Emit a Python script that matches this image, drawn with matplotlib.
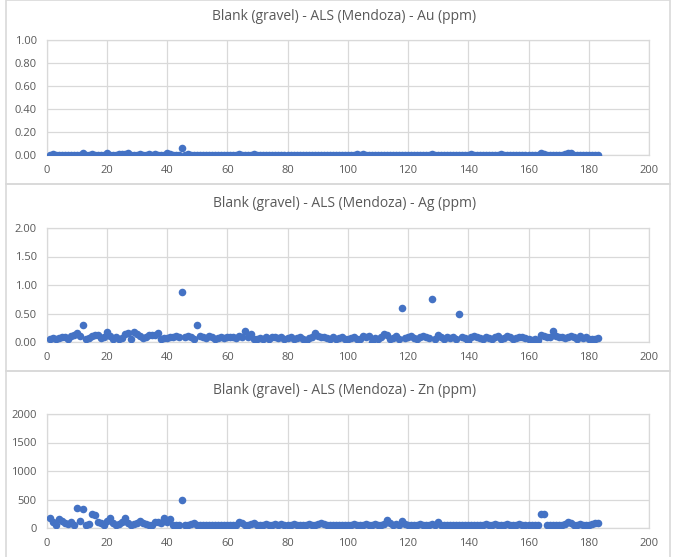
import matplotlib
matplotlib.use("Agg")
import matplotlib.pyplot as plt
from matplotlib.patches import Rectangle

sample_no = list(range(1, 184))

au_ppm = [
    0, 0.01, 0, 0, 0, 0, 0, 0, 0, 0,
    0, 0.02, 0, 0, 0.01, 0, 0, 0, 0, 0.02,
    0, 0, 0, 0.01, 0.01, 0.01, 0.02, 0, 0, 0,
    0.01, 0, 0, 0.01, 0, 0.01, 0, 0, 0, 0.02,
    0.01, 0, 0, 0, 0.06, 0, 0.01, 0, 0, 0,
    0, 0, 0, 0, 0, 0, 0, 0, 0, 0,
    0, 0, 0, 0.01, 0, 0, 0, 0, 0.01, 0,
    0, 0, 0, 0, 0, 0, 0, 0, 0, 0,
    0, 0, 0, 0, 0, 0, 0, 0, 0, 0,
    0, 0, 0, 0, 0, 0, 0, 0, 0, 0,
    0, 0, 0.01, 0, 0.01, 0, 0, 0, 0, 0,
    0, 0, 0, 0, 0, 0, 0, 0, 0, 0,
    0, 0, 0, 0, 0, 0, 0, 0.01, 0, 0,
    0, 0, 0, 0, 0, 0, 0, 0, 0, 0,
    0.01, 0, 0, 0, 0, 0, 0, 0, 0, 0,
    0.01, 0, 0, 0, 0, 0, 0, 0, 0, 0,
    0, 0, 0, 0.02, 0.01, 0, 0, 0, 0, 0,
    0, 0.01, 0.02, 0.02, 0, 0, 0, 0, 0, 0,
    0, 0, 0,
]

ag_ppm = [
    0.05, 0.07, 0.06, 0.07, 0.09, 0.08, 0.06, 0.10, 0.12, 0.15,
    0.10, 0.29, 0.05, 0.07, 0.10, 0.13, 0.12, 0.07, 0.08, 0.17,
    0.10, 0.06, 0.08, 0.05, 0.07, 0.14, 0.15, 0.05, 0.17, 0.14,
    0.10, 0.07, 0.09, 0.12, 0.13, 0.12, 0.16, 0.06, 0.07, 0.07,
    0.09, 0.08, 0.10, 0.09, 0.87, 0.09, 0.10, 0.08, 0.05, 0.30,
    0.10, 0.09, 0.07, 0.10, 0.08, 0.06, 0.07, 0.09, 0.07, 0.08,
    0.09, 0.08, 0.07, 0.10, 0.09, 0.20, 0.08, 0.14, 0.06, 0.05,
    0.07, 0.05, 0.08, 0.06, 0.09, 0.08, 0.07, 0.08, 0.06, 0.07,
    0.08, 0.06, 0.07, 0.09, 0.06, 0.00, 0.07, 0.09, 0.16, 0.10,
    0.08, 0.09, 0.07, 0.06, 0.09, 0.05, 0.07, 0.08, 0.06, 0.05,
    0.07, 0.08, 0.06, 0.05, 0.10, 0.08, 0.10, 0.00, 0.07, 0.06,
    0.09, 0.14, 0.12, 0.05, 0.07, 0.10, 0.06, 0.60, 0.07, 0.08,
    0.10, 0.07, 0.06, 0.08, 0.11, 0.09, 0.07, 0.76, 0.06, 0.12,
    0.09, 0.05, 0.08, 0.07, 0.09, 0.06, 0.50, 0.08, 0.07, 0.02,
    0.08, 0.10, 0.09, 0.07, 0.06, 0.08, 0.07, 0.06, 0.09, 0.11,
    0.05, 0.07, 0.10, 0.08, 0.06, 0.07, 0.09, 0.08, 0.07, 0.06,
    0.03, 0.05, 0.04, 0.12, 0.10, 0.09, 0.08, 0.20, 0.10, 0.09,
    0.08, 0.07, 0.09, 0.11, 0.08, 0.06, 0.10, 0.07, 0.08, 0.06,
    0.05, 0.06, 0.07,
]

zn_ppm = [
    170, 100, 60, 150, 120, 80, 70, 100, 60, 350,
    130, 330, 60, 70, 240, 220, 100, 80, 60, 130,
    170, 80, 60, 70, 100, 180, 90, 60, 70, 90,
    130, 80, 70, 50, 60, 110, 100, 80, 170, 100,
    150, 60, 60, 60, 490, 60, 60, 70, 80, 60,
    60, 50, 60, 50, 60, 60, 60, 60, 60, 60,
    60, 60, 60, 100, 80, 50, 60, 70, 90, 60,
    60, 60, 70, 60, 60, 70, 60, 70, 60, 60,
    60, 70, 60, 50, 60, 60, 70, 60, 50, 70,
    90, 70, 60, 60, 60, 60, 60, 60, 60, 60,
    60, 70, 60, 60, 60, 70, 60, 60, 70, 60,
    60, 70, 140, 80, 60, 70, 60, 120, 70, 60,
    60, 60, 50, 70, 60, 60, 60, 70, 60, 100,
    60, 50, 60, 60, 60, 60, 60, 60, 60, 60,
    60, 60, 60, 60, 60, 70, 60, 60, 70, 60,
    60, 60, 70, 60, 60, 60, 70, 60, 60, 60,
    60, 60, 60, 240, 240, 50, 60, 60, 50, 60,
    60, 70, 110, 90, 60, 50, 70, 60, 60, 60,
    70, 80, 80,
]

titles = [
    "Blank (gravel) - ALS (Mendoza) - Au (ppm)",
    "Blank (gravel) - ALS (Mendoza) - Ag (ppm)",
    "Blank (gravel) - ALS (Mendoza) - Zn (ppm)",
]
series = [au_ppm, ag_ppm, zn_ppm]
y_limits = [(0, 1.0), (0, 2.0), (0, 2000)]
y_steps = [0.2, 0.5, 500]
y_formats = ["{:.2f}", "{:.2f}", "{:.0f}"]
x_ticks = [0, 20, 40, 60, 80, 100, 120, 140, 160, 180, 200]

W, H = 674, 557
FONT = ["Open Sans", "DejaVu Sans"]
TXT = "#595959"
GRID = "#d9d9d9"
BLUE = "#4472C4"

fig = plt.figure(figsize=(W / 100, H / 100), dpi=100)
fig.patch.set_facecolor("white")

# panel boxes (pixel coords top, bottom)
panels = [(0, 184), (184, 371), (371, 560)]
for top, bot in panels:
    fig.patches.append(Rectangle((6 / W, 1 - bot / H), (670 - 6) / W, (bot - top) / H,
                                 transform=fig.transFigure, fill=False,
                                 edgecolor=GRID, linewidth=1.2))

ax_top_px = [40, 228, 414]
ax_bot_px = [155, 342, 528]
title_px = [16, 204, 390]
x0_px, x1_px = 46.5, 649

for i in range(3):
    ax = fig.add_axes([x0_px / W, 1 - ax_bot_px[i] / H,
                       (x1_px - x0_px) / W, (ax_bot_px[i] - ax_top_px[i]) / H])
    ax.scatter(sample_no, series[i], s=30, color=BLUE, zorder=3, linewidths=0)
    ax.set_xlim(0, 200)
    lo, hi = y_limits[i]
    ax.set_ylim(lo, hi)
    yt = []
    v = lo
    while v <= hi + 1e-9:
        yt.append(v)
        v += y_steps[i]
    ax.set_yticks(yt)
    ax.set_yticklabels([y_formats[i].format(t) for t in yt])
    ax.set_xticks(x_ticks)
    ax.set_xticklabels([str(t) for t in x_ticks])
    ax.grid(True, color=GRID, linewidth=0.9, zorder=0)
    ax.set_axisbelow(True)
    for sp in ax.spines.values():
        sp.set_color(GRID)
        sp.set_linewidth(0.9)
    ax.tick_params(length=0, labelsize=8, labelcolor=TXT, pad=7)
    for lab in ax.get_xticklabels() + ax.get_yticklabels():
        lab.set_family(FONT)
    fig.text(0.5 * (x0_px + x1_px) / W - 0.005, 1 - title_px[i] / H, titles[i],
             ha="center", va="center", fontsize=10, color=TXT, family=FONT)

fig.savefig("out.png", dpi=100, facecolor="white")
